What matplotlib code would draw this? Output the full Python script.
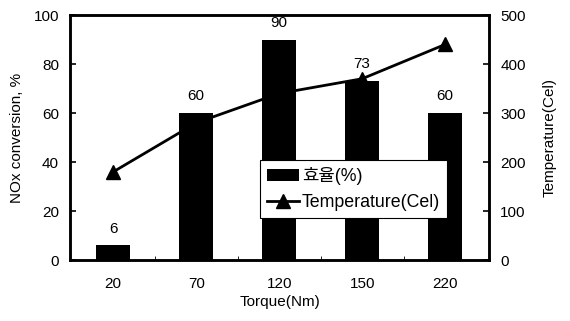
import numpy as np
import matplotlib.pyplot as plt

plt.rcParams['font.family'] = ['Liberation Sans', 'Noto Sans CJK KR', 'DejaVu Sans']
plt.rcParams['font.size'] = 11
plt.rcParams['axes.linewidth'] = 1.8

torque = ['20', '70', '120', '150', '220']
nox = [6, 60, 90, 73, 60]
temp = [180, 280, 340, 370, 440]

x = np.arange(len(torque))

fig = plt.figure(figsize=(5.7, 3.21), dpi=100)
ax = fig.add_axes([0.123, 0.19, 0.735, 0.763])
ax2 = ax.twinx()

bars = ax.bar(x, nox, width=0.41, color='black', zorder=2)
for xi, v in zip(x, nox):
    ax.text(xi, v + 4, str(v), ha='center', va='bottom')

line, = ax2.plot(x, temp, color='black', lw=2, marker='^', ms=10)
# bars sit above the temperature line
ax.set_zorder(ax2.get_zorder() + 1)
ax.patch.set_visible(False)

ax.set_xlim(-0.52, 4.53)
ax.set_ylim(0, 100)
ax2.set_ylim(0, 500)
ax.set_yticks(np.arange(0, 101, 20))
ax2.set_yticks(np.arange(0, 501, 100))

ax.set_xticks(x)
ax.set_xticklabels(torque)
ax.tick_params(axis='x', length=0, pad=12)
ax.set_xticks(np.arange(0.5, 4.5, 1), minor=True)
ax.tick_params(axis='x', which='minor', direction='in', length=3)
ax.tick_params(axis='y', direction='in', length=4, width=1.2, pad=8)
ax2.tick_params(axis='y', direction='in', length=4, width=1.2, pad=8)

ax.set_xlabel('Torque(Nm)', labelpad=3)
ax.set_ylabel('NOx conversion, %', labelpad=7)
ax2.set_ylabel('Temperature(Cel)', labelpad=12)

leg = ax.legend([bars, line], ['효율(%)', 'Temperature(Cel)'],
                loc='upper left', bbox_to_anchor=(0.453, 0.408),
                frameon=True, fancybox=False, framealpha=1,
                edgecolor='black', handlelength=1.8, borderpad=0.4,
                labelspacing=0.5, handletextpad=0.15, borderaxespad=0,
                fontsize=12.8)
leg.get_frame().set_linewidth(0.8)

fig.savefig('out.png', dpi=100)
